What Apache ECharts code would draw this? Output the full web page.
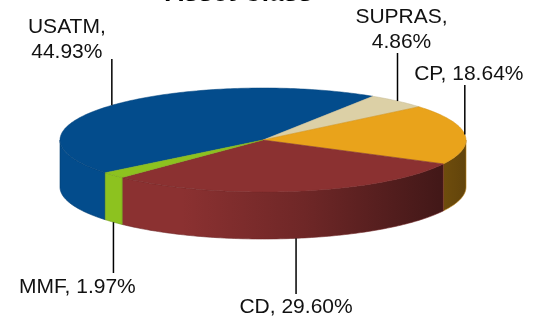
<!DOCTYPE html>
<html>
<head>
<meta charset="utf-8">
<script src="https://cdn.jsdelivr.net/npm/echarts@6/dist/echarts.min.js"></script>
<style>
  html, body { margin: 0; padding: 0; background: #fff; }
  #chart { width: 537px; height: 318px; }
</style>
</head>
<body>
<div id="chart"></div>
<script>
// asset class shares, clockwise from the back-left
var names = ['USATM', 'SUPRAS', 'CP', 'CD', 'MMF']
var values = [44.93, 4.86, 18.64, 29.60, 1.97]
var colors = ['#034c8c', '#dcd0a6', '#e9a31b', '#8b3131', '#8dc21f']

// pie geometry (screen angles, y down)
var cx = 263, cy = 140, rx = 203, ry = 52, depth = 47
var startAngle = 141

// label placement: dx of text centre from leader line, where the leader stops, text top
var labelLayout = {
  USATM: { dx: -45, end: 59, top: 15 },
  SUPRAS: { dx: 4, end: 53, top: 5 },
  CP: { dx: 4, end: 85, top: 62 },
  CD: { dx: 0, end: 294, top: 295 },
  MMF: { dx: -36, end: 273, top: 275 }
}

var total = values.reduce(function (a, b) { return a + b }, 0)
var starts = []
var acc = startAngle
values.forEach(function (v) {
  starts.push(acc)
  acc += v / total * 360
})

function rad (d) { return d * Math.PI / 180 }
function pt (a, dy) {
  return [cx + rx * Math.cos(rad(a)), cy + ry * Math.sin(rad(a)) + (dy || 0)]
}
function shade (hex, f) {
  var n = parseInt(hex.slice(1), 16)
  var r = Math.round(((n >> 16) & 255) * f)
  var g = Math.round(((n >> 8) & 255) * f)
  var b = Math.round((n & 255) * f)
  return 'rgb(' + r + ',' + g + ',' + b + ')'
}
function arc (a0, a1, dy) {
  var pts = []
  var steps = Math.max(2, Math.ceil(Math.abs(a1 - a0)))
  for (var i = 0; i <= steps; i++) {
    pts.push(pt(a0 + (a1 - a0) * i / steps, dy))
  }
  return pts
}

function renderItem (params, api) {
  var i = params.dataIndex
  var a0 = starts[i]
  var a1 = a0 + api.value(0) / total * 360
  var color = colors[i]
  var children = []

  // front walls: parts of the arc lying in [0,180] (+ k*360)
  for (var k = 0; k < 3; k++) {
    var s = Math.max(a0, k * 360)
    var e = Math.min(a1, k * 360 + 180)
    if (e > s) {
      var top = arc(s, e, 0)
      var bottom = arc(e, s, depth)
      children.push({
        type: 'polygon',
        z2: 1,
        shape: { points: top.concat(bottom) },
        style: {
          fill: new echarts.graphic.LinearGradient(cx - rx, 0, cx + rx, 0, [
            { offset: 0, color: shade(color, 1) },
            { offset: 0.3, color: shade(color, 1) },
            { offset: 0.6, color: shade(color, 0.8) },
            { offset: 1, color: shade(color, 0.42) }
          ], true),
          stroke: shade(color, 0.8),
          lineWidth: 0.6
        }
      })
    }
  }

  // top face
  children.push({
    type: 'polygon',
    z2: 5,
    shape: { points: [[cx, cy]].concat(arc(a0, a1, 0)) },
    style: { fill: color, stroke: shade(color, 0.9), lineWidth: 0.5 }
  })

  // label with vertical leader line
  var mid = (a0 + a1) / 2
  var front = Math.sin(rad(mid)) > 0
  var anchor = pt(mid, front ? depth : 0)
  var lay = labelLayout[names[i]]
  var text = names[i] === 'USATM' || names[i] === 'SUPRAS'
    ? names[i] + ',\n' + values[i].toFixed(2) + '%'
    : names[i] + ', ' + values[i].toFixed(2) + '%'
  children.push({
    type: 'line',
    z2: 10,
    shape: { x1: anchor[0], y1: anchor[1], x2: anchor[0], y2: lay.end },
    style: { stroke: '#000', lineWidth: 1.5 }
  })
  children.push({
    type: 'text',
    z2: 10,
    x: anchor[0] + lay.dx,
    y: lay.top,
    style: {
      text: text,
      fill: '#111',
      font: '21px "Liberation Sans", Arial, sans-serif',
      lineHeight: 25,
      align: 'center',
      verticalAlign: 'top'
    }
  })

  return { type: 'group', children: children }
}

var chart = echarts.init(document.getElementById('chart'))
chart.setOption({
  animation: false,
  title: {
    text: 'Asset Class',
    left: 160,
    top: -24,
    textStyle: {
      fontFamily: '"Liberation Sans", Arial, sans-serif',
      fontSize: 26,
      fontWeight: 'bold',
      color: '#000'
    }
  },
  series: [{
    type: 'custom',
    coordinateSystem: 'none',
    renderItem: renderItem,
    data: values.map(function (v, i) { return { name: names[i], value: [v] } })
  }]
})
</script>
</body>
</html>
